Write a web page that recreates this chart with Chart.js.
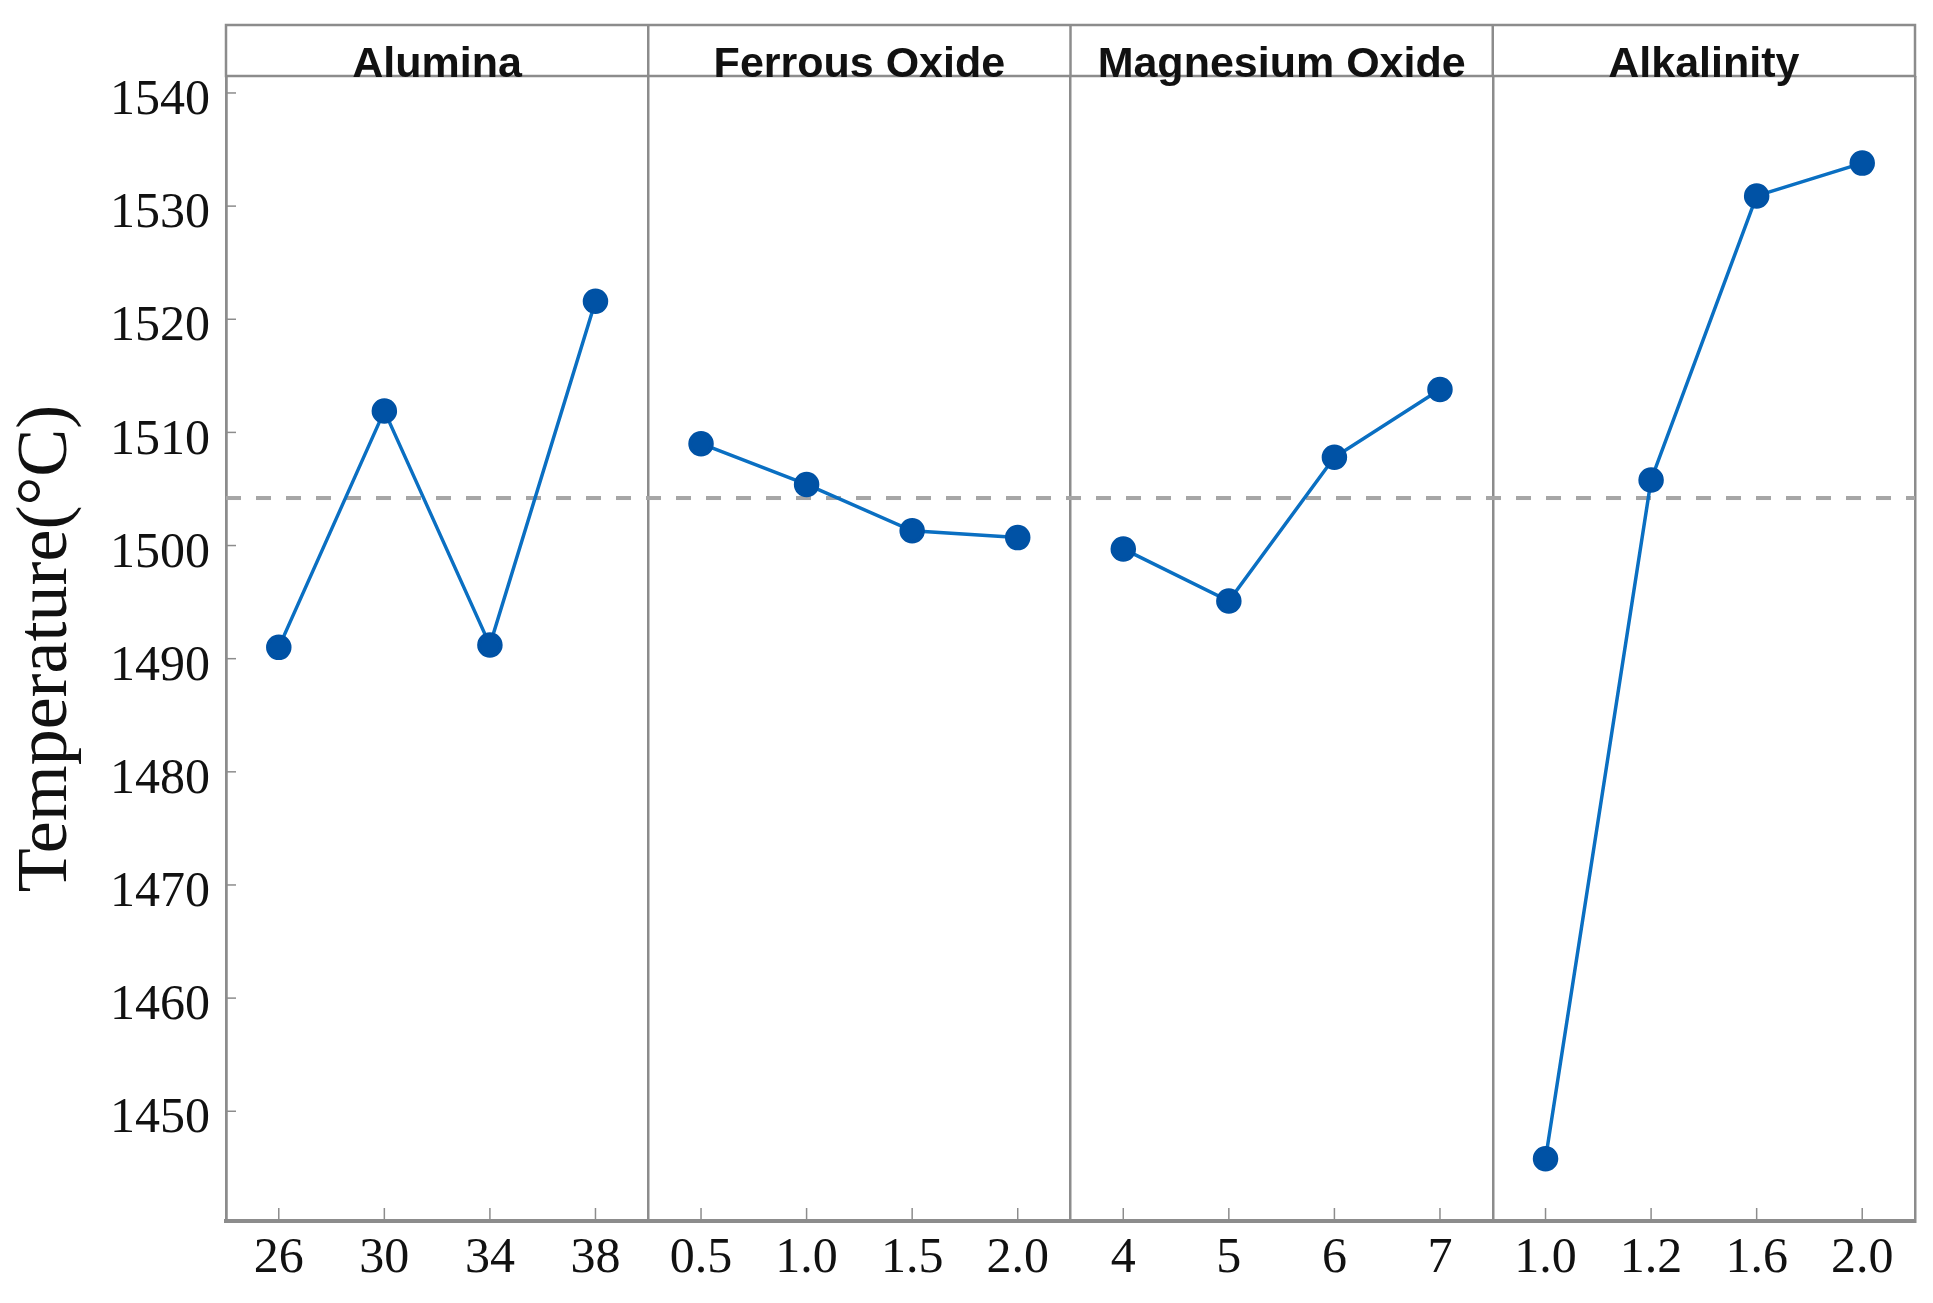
<!DOCTYPE html>
<html>
<head>
<meta charset="utf-8">
<script src="https://cdn.jsdelivr.net/npm/chart.js@4.4.1/dist/chart.umd.min.js"></script>
<style>
  html, body { margin: 0; padding: 0; background: #fff; }
  canvas { display: block; }
</style>
</head>
<body>
<canvas id="chart" width="1933" height="1303"></canvas>
<script>
// factor names and their levels
const panels = ['Alumina', 'Ferrous Oxide', 'Magnesium Oxide', 'Alkalinity'];
const aluminaLevels = ['26', '30', '34', '38'];
const ferrousLevels = ['0.5', '1.0', '1.5', '2.0'];
const magnesiumLevels = ['4', '5', '6', '7'];
const alkalinityLevels = ['1.0', '1.2', '1.6', '2.0'];

// mean temperature at each level (°C)
const aluminaTemp = [1491.0, 1511.9, 1491.2, 1521.6];
const ferrousTemp = [1509.0, 1505.4, 1501.3, 1500.7];
const magnesiumTemp = [1499.7, 1495.1, 1507.8, 1513.8];
const alkalinityTemp = [1445.8, 1505.8, 1530.9, 1533.8];

const grandMean = 1504.2;
const yTicks = [1450, 1460, 1470, 1480, 1490, 1500, 1510, 1520, 1530, 1540];
const yMin = 1440.3;
const yMax = 1541.5;

const levelGroups = [aluminaLevels, ferrousLevels, magnesiumLevels, alkalinityLevels];
const tempGroups = [aluminaTemp, ferrousTemp, magnesiumTemp, alkalinityTemp];
const categories = levelGroups.flat();

const gray = '#8c8c8c';
const lineBlue = '#0a6fc2';
const dotBlue = '#0052a5';

// one dataset per panel, padded with nulls so the lines don't join
const datasets = tempGroups.map((temps, p) => {
  const data = categories.map(() => null);
  temps.forEach((t, i) => { data[p * 4 + i] = t; });
  return {
    label: panels[p],
    data: data,
    borderColor: lineBlue,
    borderWidth: 3.5,
    pointRadius: 11,
    pointHoverRadius: 11,
    pointBackgroundColor: dotBlue,
    pointBorderColor: dotBlue,
    spanGaps: false,
    tension: 0,
  };
});

const panelPlugin = {
  id: 'panelPlugin',
  beforeDatasetsDraw(chart) {
    const { ctx, chartArea, scales } = chart;
    const y = scales.y.getPixelForValue(grandMean);
    ctx.save();
    ctx.strokeStyle = '#a6a6a6';
    ctx.lineWidth = 4;
    ctx.setLineDash([15, 15]);
    ctx.beginPath();
    ctx.moveTo(chartArea.left, y);
    ctx.lineTo(chartArea.right, y);
    ctx.stroke();
    ctx.restore();
  },
  afterDraw(chart) {
    const { ctx, chartArea, scales } = chart;
    const x = scales.x;
    const top = 25;
    const bottom = chartArea.top;
    ctx.save();
    ctx.strokeStyle = gray;
    ctx.lineWidth = 2.5;

    // header strip
    ctx.strokeRect(chartArea.left, top, chartArea.right - chartArea.left, bottom - top);
    for (let p = 1; p < panels.length; p++) {
      const bx = (x.getPixelForValue(p * 4 - 1) + x.getPixelForValue(p * 4)) / 2;
      ctx.beginPath();
      ctx.moveTo(bx, top);
      ctx.lineTo(bx, bottom);
      ctx.stroke();
    }

    // inner tick marks
    ctx.lineWidth = 1.5;
    categories.forEach((c, i) => {
      const px = x.getPixelForValue(i);
      ctx.beginPath();
      ctx.moveTo(px, chartArea.bottom);
      ctx.lineTo(px, chartArea.bottom - 13);
      ctx.stroke();
    });
    yTicks.forEach((v) => {
      const py = scales.y.getPixelForValue(v);
      ctx.beginPath();
      ctx.moveTo(chartArea.left, py);
      ctx.lineTo(chartArea.left + 10, py);
      ctx.stroke();
    });

    // panel names
    ctx.fillStyle = '#111';
    ctx.font = 'bold 43px "Liberation Sans", Arial, sans-serif';
    ctx.textAlign = 'center';
    ctx.textBaseline = 'alphabetic';
    panels.forEach((name, p) => {
      const cx = (x.getPixelForValue(p * 4) + x.getPixelForValue(p * 4 + 3)) / 2;
      ctx.fillText(name, cx, bottom + 1);
    });
    ctx.restore();
  },
};

new Chart(document.getElementById('chart'), {
  type: 'line',
  data: { labels: categories, datasets: datasets },
  plugins: [panelPlugin],
  options: {
    responsive: false,
    animation: false,
    devicePixelRatio: 1,
    layout: { padding: { top: 76, right: 18, bottom: 0, left: 0 } },
    plugins: { legend: { display: false }, tooltip: { enabled: false } },
    scales: {
      x: {
        type: 'category',
        offset: true,
        grid: {
          offset: true,
          drawTicks: false,
          lineWidth: 2.5,
          color: (c) => (c.type !== 'tick' || c.index % 4 === 0 ? gray : 'rgba(0,0,0,0)'),
        },
        border: { display: true, color: gray, width: 4 },
        ticks: {
          color: '#111',
          padding: 8,
          maxRotation: 0,
          autoSkip: false,
          font: { family: '"Liberation Serif", "Times New Roman", serif', size: 50 },
        },
        afterFit: (scale) => { scale.height = 82; },
      },
      y: {
        min: yMin,
        max: yMax,
        grid: { display: false, drawTicks: false },
        border: { display: true, color: gray, width: 2.5 },
        afterBuildTicks: (axis) => { axis.ticks = yTicks.map((v) => ({ value: v })); },
        ticks: {
          color: '#111',
          padding: 16,
          labelOffset: 8,
          callback: (v) => String(v),
          font: { family: '"Liberation Serif", "Times New Roman", serif', size: 50 },
        },
        title: {
          display: true,
          text: 'Temperature(°C)',
          color: '#111',
          padding: 4,
          font: { family: '"Liberation Serif", "Times New Roman", serif', size: 72 },
        },
        afterFit: (scale) => { scale.width = 226; },
      },
    },
  },
});
</script>
</body>
</html>
